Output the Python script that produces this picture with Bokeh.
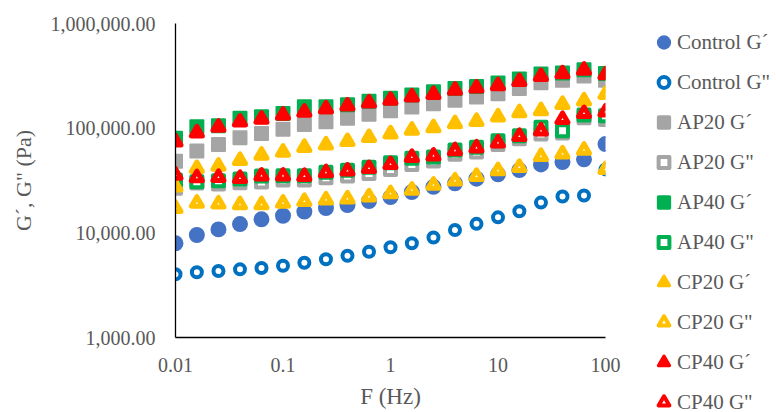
from bokeh.plotting import figure
from bokeh.layouts import row
from bokeh.models import Range1d, FixedTicker, Legend, LegendItem
from bokeh.embed import file_html
from bokeh.resources import INLINE

# ---- data ----
freq = [0.01, 0.0158, 0.0251, 0.0398, 0.0631, 0.1, 0.158, 0.251, 0.398, 0.631,
        1.0, 1.58, 2.51, 3.98, 6.31, 10.0, 15.8, 25.1, 39.8, 63.1, 100.0]

control_g1 = [7940, 9530, 10790, 12130, 13460, 14560, 15960, 17260, 18450, 20140, 21980,
              24550, 27540, 29720, 32890, 36220, 39810, 45080, 47420, 50350, 70470]
control_g2 = [4018, 4198, 4315, 4477, 4613, 4853, 5176, 5585, 6039, 6592, 7278,
              7943, 9016, 10640, 12190, 14060, 16070, 19450, 22230, 22700, 40360]
ap20_g1 = [48190, 60400, 69980, 80910, 89130, 97500, 108600, 115100, 124200, 135500, 146600,
           159200, 171000, 184500, 198200, 213300, 239900, 271600, 287700, 314800, 287700]
ap20_g2 = [26610, 29920, 29240, 30130, 30550, 31920, 31920, 33570, 34830, 36980, 40360,
           45080, 48530, 56230, 59160, 69980, 79250, 87900, 89740, 125600, 121300]
ap40_g1 = [79980, 103000, 105400, 124700, 128500, 138400, 160000, 160000, 167500, 180300, 192800,
           207000, 222800, 239900, 250600, 269800, 294400, 328900, 335700, 361400, 333400]
ap40_g2 = [31920, 30760, 31480, 32660, 34830, 35080, 35080, 37840, 39540, 42270, 46770,
           51520, 52970, 61800, 65610, 75860, 84530, 101800, 94410, 133400, 131200]
cp20_g1 = [27540, 41300, 43450, 49320, 55340, 59160, 65610, 69340, 74820, 81660, 88510,
           95940, 101400, 110700, 116400, 128500, 140900, 147200, 169000, 182400, 210900]
cp20_g2 = [17140, 19280, 18970, 18620, 18620, 19280, 20040, 20700, 21130, 22130, 23710,
           25640, 28640, 31410, 34750, 39360, 42360, 53830, 56890, 61800, 40460]
cp40_g1 = [74130, 90360, 102500, 114800, 122200, 133400, 142600, 153100, 163300, 174600, 185400,
           199500, 210900, 231200, 242700, 255300, 279900, 312600, 331900, 358900, 325100]
cp40_g2 = [35650, 33730, 33960, 33190, 34990, 34990, 34750, 37670, 39080, 41300, 45080,
           52720, 54330, 61090, 65010, 72440, 83750, 94410, 121600, 138400, 143500]

series_names = ['Control G´', 'Control G"', 'AP20 G´', 'AP20 G"', 'AP40 G´',
                'AP40 G"', 'CP20 G´', 'CP20 G"', 'CP40 G´', 'CP40 G"']
series_values = [control_g1, control_g2, ap20_g1, ap20_g2, ap40_g1,
                 ap40_g2, cp20_g1, cp20_g2, cp40_g1, cp40_g2]

x_ticks = [0.01, 0.1, 1, 10, 100]
x_tick_labels = ["0.01", "0.1", "1", "10", "100"]
y_ticks = [1000, 10000, 100000, 1000000]
y_tick_labels = ["1,000.00", "10,000.00", "100,000.00", "1,000,000.00"]

x_title = "F (Hz)"
y_title = 'G´, G" (Pa)'

# ---- styles ----
series_styles = [
    dict(marker="circle", color="#4472C4", filled=True),
    dict(marker="circle", color="#0070C0", filled=False),
    dict(marker="square", color="#A5A5A5", filled=True),
    dict(marker="square", color="#A5A5A5", filled=False),
    dict(marker="square", color="#00B050", filled=True),
    dict(marker="square", color="#00B050", filled=False),
    dict(marker="triangle", color="#FFC000", filled=True),
    dict(marker="triangle", color="#FFC000", filled=False),
    dict(marker="triangle", color="#FF0000", filled=True),
    dict(marker="triangle", color="#FF0000", filled=False),
]

FONT = "Liberation Serif"
GREY = "#595959"


def marker_kw(st):
    c = st["color"]
    m = st["marker"]
    if m == "circle":
        return (dict(size=14, line_width=2, fill_color=c, line_color=c) if st["filled"]
                else dict(size=10, line_width=4, fill_color="white", line_color=c))
    if m == "square":
        return (dict(size=13, line_width=2, fill_color=c, line_color=c, line_join="round") if st["filled"]
                else dict(size=11, line_width=4, fill_color="white", line_color=c, line_join="round"))
    return (dict(size=11, line_width=5, fill_color=c, line_color=c, line_join="round") if st["filled"]
            else dict(size=11, line_width=5, fill_color="white", line_color=c, line_join="round"))


def legend_kw(st):
    c = st["color"]
    if st["filled"]:
        return dict(line_width=3.5, fill_color=c, line_color=c, line_join="round")
    return dict(line_width=4, fill_color="white", line_color=c, line_join="round")


# ---- main plot ----
p = figure(width=645, height=412, x_axis_type="log", y_axis_type="log",
           x_range=Range1d(0.01, 100), y_range=Range1d(1000, 1000000),
           output_backend="svg", toolbar_location=None,
           min_border_left=175, min_border_right=40,
           min_border_top=23, min_border_bottom=75)

p.outline_line_color = None
p.xgrid.visible = False
p.ygrid.visible = False
p.background_fill_color = "white"
p.border_fill_color = "white"

for ax, ticks, labels in ((p.xaxis[0], x_ticks, x_tick_labels), (p.yaxis[0], y_ticks, y_tick_labels)):
    ax.ticker = FixedTicker(ticks=ticks, minor_ticks=[])
    ax.major_label_overrides = {t: l for t, l in zip(ticks, labels)}
    ax.major_tick_out = 0
    ax.major_tick_in = 0
    ax.minor_tick_out = 0
    ax.minor_tick_in = 0
    ax.axis_line_color = "black"
    ax.axis_line_width = 1.3
    ax.major_label_text_font = FONT
    ax.major_label_text_font_size = "20px"
    ax.major_label_text_color = GREY
    ax.axis_label_text_font = FONT
    ax.axis_label_text_font_style = "normal"
    ax.axis_label_text_color = GREY

p.xaxis.axis_label = x_title
p.yaxis.axis_label = y_title
p.xaxis.major_label_standoff = 20
p.xaxis.axis_label_standoff = 9
p.xaxis.axis_label_text_font_size = "23px"
p.yaxis.major_label_standoff = 20
p.yaxis.axis_label_standoff = 12
p.yaxis.axis_label_text_font_size = "22px"

for vals, st in zip(series_values, series_styles):
    p.scatter(freq, vals, marker=st["marker"], **marker_kw(st))

# ---- legend panel (same series, drawn outside its own visible range) ----
leg = figure(width=131, height=412, x_range=Range1d(-2, -1), y_range=Range1d(-2, -1),
             output_backend="svg", toolbar_location=None,
             x_axis_location=None, y_axis_location=None,
             min_border_left=0, min_border_right=0, min_border_top=0, min_border_bottom=0)
leg.outline_line_color = None
leg.xgrid.visible = False
leg.ygrid.visible = False
leg.background_fill_color = "white"
leg.border_fill_color = "white"

items = []
for name, vals, st in zip(series_names, series_values, series_styles):
    r = leg.scatter(freq, vals, marker=st["marker"], **legend_kw(st))
    items.append(LegendItem(label=name, renderers=[r]))

legend = Legend(items=items, location="top_left", orientation="vertical",
                glyph_width=27, glyph_height=28, spacing=12, padding=0, margin=5,
                label_standoff=0, border_line_color=None, background_fill_alpha=0,
                label_text_font=FONT, label_text_font_size="21px", label_text_color=GREY)
leg.add_layout(legend, "left")

layout = row(p, leg)
open("out.html", "w").write(file_html(layout, INLINE))
